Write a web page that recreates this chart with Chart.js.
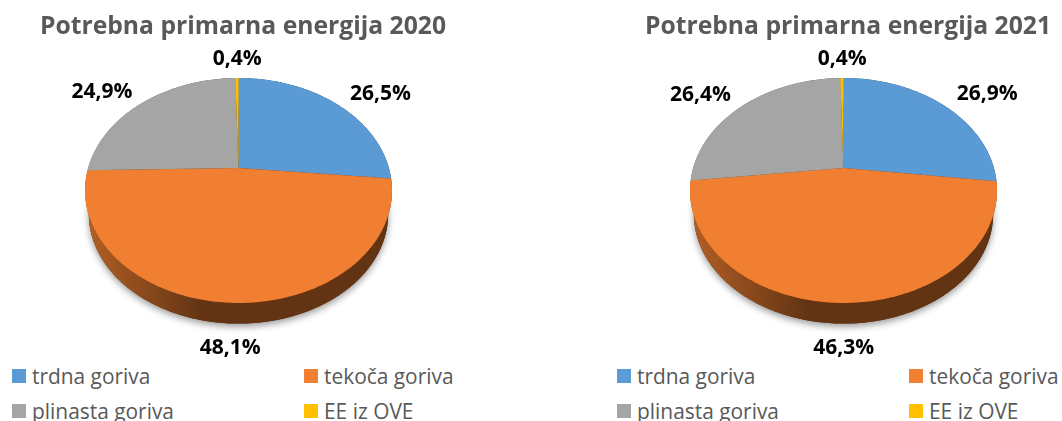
<!DOCTYPE html>
<html>
<head>
<meta charset="utf-8">
<script src="https://cdn.jsdelivr.net/npm/chart.js@4"></script>
<style>
    html, body { margin: 0; padding: 0; background: #fff; width: 1062px; height: 421px; overflow: hidden; }
    canvas { position: absolute; top: 0; }
    #chart2020 { left: 29px; }
    #chart2021 { left: 634px; }
    .legend-item { position: absolute; font: 20.9px "Open Sans", sans-serif; color: #595959; line-height: 24px; height: 24px; white-space: nowrap; }
    .legend-item span { position: absolute; left: 0; top: 5px; width: 14px; height: 14px; }
    .legend-item b { position: absolute; left: 20px; top: 0; font-weight: normal; }
</style>
</head>
<body>
<canvas id="chart2020" width="428" height="362"></canvas>
<canvas id="chart2021" width="428" height="362"></canvas>
<div id="legend2020"></div>
<div id="legend2021"></div>
<script>
const labels = ['trdna goriva', 'tekoča goriva', 'plinasta goriva', 'EE iz OVE'];
const colors = ['#5b9bd5', '#f07f31', '#a5a5a5', '#ffc000'];
const values2020 = [26.5, 48.1, 24.9, 0.4];
const values2021 = [26.9, 46.3, 26.4, 0.4];

// excel 3d pie: circle seen in perspective, the apex sits above the middle of the ellipse
const tilt = 0.2;
const stretchX = 1.393;
const pieShiftX = -4.5;
const baseScale = 0.975;
const depth = 24;

function project(arc, angle) {
    const p = arc.getProps(['x', 'y', 'outerRadius']);
    const u = Math.cos(angle), v = Math.sin(angle);
    const w = 1 - tilt * v;
    return {
        x: p.x + pieShiftX + p.outerRadius * stretchX * u / w,
        y: p.y + p.outerRadius * v / w
    };
}

function rimPoints(arc, from, to) {
    const pts = [];
    const steps = Math.max(2, Math.ceil((to - from) * 60));
    for (let i = 0; i <= steps; i++) {
        pts.push(project(arc, from + (to - from) * i / steps));
    }
    return pts;
}

function toBase(arc, pt) {
    const cx = arc.x + pieShiftX;
    return { x: cx + (pt.x - cx) * baseScale, y: arc.y + (pt.y - arc.y) * baseScale + depth };
}

// top face of a slice, replaces the round arc of the library
Chart.ArcElement.prototype.draw = function (ctx) {
    const p = this.getProps(['x', 'y', 'startAngle', 'endAngle']);
    const pts = rimPoints(this, p.startAngle, p.endAngle);
    ctx.save();
    ctx.beginPath();
    ctx.moveTo(p.x + pieShiftX, p.y);
    pts.forEach(pt => ctx.lineTo(pt.x, pt.y));
    ctx.closePath();
    ctx.fillStyle = this.options.backgroundColor;
    ctx.fill();
    ctx.restore();
};

function shade(hex, k) {
    const n = parseInt(hex.slice(1), 16);
    return 'rgb(' + Math.round((n >> 16) * k) + ',' + Math.round(((n >> 8) & 255) * k) + ',' + Math.round((n & 255) * k) + ')';
}

const wallPlugin = {
    id: 'wall',
    beforeDatasetsDraw(chart) {
        const ctx = chart.ctx;
        const arcs = chart.getDatasetMeta(0).data;
        if (!arcs.length) return;

        // soft shadow under the whole disc
        const ring = rimPoints(arcs[0], 0, Math.PI * 2).map(pt => toBase(arcs[0], pt));
        ctx.save();
        ctx.shadowColor = 'rgba(0,0,0,0.4)';
        ctx.shadowBlur = 7;
        ctx.shadowOffsetY = 3;
        ctx.fillStyle = '#61300f';
        ctx.beginPath();
        ring.forEach((pt, i) => i ? ctx.lineTo(pt.x, pt.y) : ctx.moveTo(pt.x, pt.y));
        ctx.closePath();
        ctx.fill();
        ctx.restore();

        arcs.forEach(arc => {
            const from = arc.startAngle, to = arc.endAngle;
            const top = rimPoints(arc, from, to);
            const bottom = top.map(pt => toBase(arc, pt)).reverse();
            const left = arc.x + pieShiftX - arc.outerRadius * stretchX;
            const grad = ctx.createLinearGradient(left, 0, left + arc.outerRadius * stretchX * 2, 0);
            const base = arc.options.backgroundColor;
            grad.addColorStop(0, shade(base, 0.74));
            grad.addColorStop(0.38, shade(base, 0.41));
            grad.addColorStop(1, shade(base, 0.41));
            ctx.save();
            ctx.fillStyle = grad;
            ctx.beginPath();
            top.concat(bottom).forEach((pt, i) => i ? ctx.lineTo(pt.x, pt.y) : ctx.moveTo(pt.x, pt.y));
            ctx.closePath();
            ctx.fill();
            ctx.restore();
        });
    }
};

const valueLabelPlugin = {
    id: 'valueLabels',
    afterDatasetsDraw(chart) {
        const ctx = chart.ctx;
        const values = chart.data.datasets[0].data;
        ctx.save();
        ctx.font = 'bold 21px "Open Sans", sans-serif';
        ctx.fillStyle = '#000';
        ctx.textAlign = 'center';
        ctx.textBaseline = 'middle';
        chart.getDatasetMeta(0).data.forEach((arc, i) => {
            const mid = (arc.startAngle + arc.endAngle) / 2;
            const rim = project(arc, mid);
            const u = Math.cos(mid), v = Math.sin(mid);
            const x = rim.x + 58 * u + 1;
            const y = rim.y + (v > 0 ? 45 : 26 * v + 7);
            ctx.fillText(values[i].toFixed(1).replace('.', ',') + '%', x, y);
        });
        ctx.restore();
    }
};

function renderChart(id, year, values) {
    new Chart(document.getElementById(id), {
        type: 'pie',
        data: {
            labels: labels,
            datasets: [{ data: values, backgroundColor: colors, borderWidth: 0 }]
        },
        options: {
            responsive: false,
            animation: false,
            layout: { padding: { bottom: 86 } },
            plugins: {
                legend: { display: false },
                tooltip: { enabled: false },
                title: {
                    display: true,
                    text: 'Potrebna primarna energija ' + year,
                    color: '#595959',
                    font: { family: '"Open Sans", sans-serif', size: 24.7, weight: 'bold', lineHeight: 1.2 },
                    padding: { top: 12.5, bottom: 17.9 }
                }
            }
        },
        plugins: [wallPlugin, valueLabelPlugin]
    });
}

// legend as plain html, two columns like in the report
function renderLegend(id, left) {
    const container = document.getElementById(id);
    labels.forEach((label, index) => {
        const item = document.createElement('div');
        item.classList.add('legend-item');
        item.style.left = (left + (index % 2) * 292) + 'px';
        item.style.top = (364 + Math.floor(index / 2) * 35) + 'px';

        const box = document.createElement('span');
        box.style.backgroundColor = colors[index];
        const text = document.createElement('b');
        text.textContent = label;

        item.appendChild(box);
        item.appendChild(text);
        container.appendChild(item);
    });
}

renderChart('chart2020', 2020, values2020);
renderChart('chart2021', 2021, values2021);
renderLegend('legend2020', 12);
renderLegend('legend2021', 617);
</script>
</body>
</html>
